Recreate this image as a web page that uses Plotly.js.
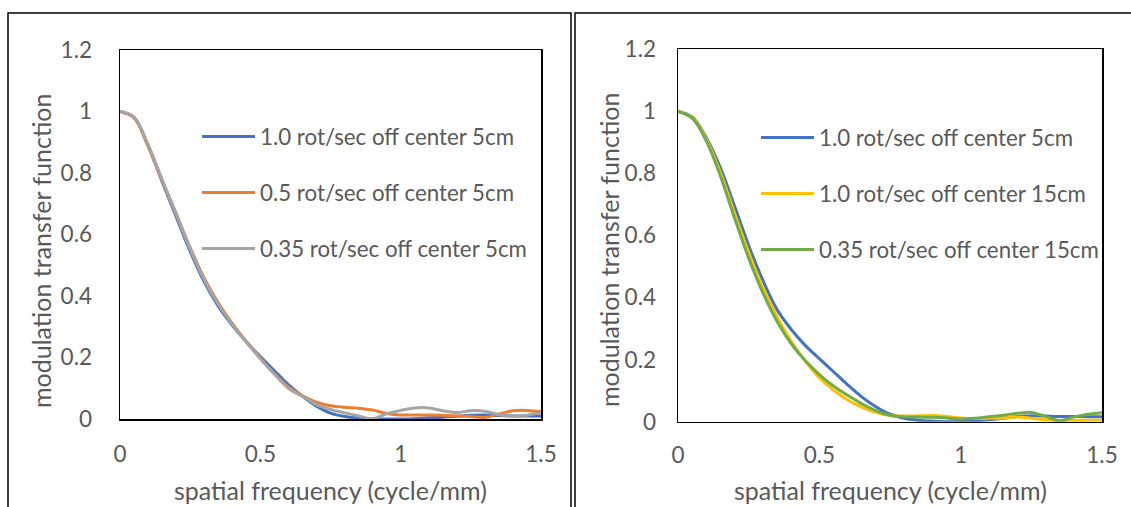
<!DOCTYPE html>
<html><head><meta charset="utf-8">
<script src="https://cdn.plot.ly/plotly-3.0.1.min.js"></script>
<style>html,body{margin:0;padding:0;background:#fff;overflow:hidden}#chart{width:1131px;height:507px}</style>
</head><body><div id="chart"></div>
<script>
// spatial frequency (cycle/mm)
const freq = [0,0.05,0.1,0.15,0.2,0.25,0.3,0.35,0.4,0.45,0.5,0.55,0.6,0.65,0.7,0.75,0.8,0.85,0.9,0.95,1.0,1.05,1.1,1.15,1.2,1.25,1.3,1.35,1.4,1.45,1.5];

// Left panel series
const leftNames = ["1.0 rot/sec off center 5cm","0.5 rot/sec off center 5cm","0.35 rot/sec off center 5cm"];
const left_1p0_5cm  = [1.000,0.980,0.888,0.772,0.658,0.545,0.446,0.367,0.305,0.251,0.203,0.157,0.112,0.074,0.042,0.019,0.008,0.003,0.000,0.000,0.000,0.001,0.004,0.006,0.009,0.012,0.013,0.011,0.010,0.010,0.010];
const left_0p5_5cm  = [1.000,0.980,0.888,0.776,0.668,0.557,0.458,0.378,0.311,0.252,0.198,0.148,0.104,0.075,0.055,0.043,0.038,0.035,0.029,0.018,0.013,0.013,0.013,0.012,0.010,0.008,0.005,0.016,0.027,0.028,0.024];
const left_0p35_5cm = [1.000,0.982,0.892,0.778,0.667,0.553,0.453,0.373,0.308,0.250,0.196,0.146,0.100,0.073,0.047,0.031,0.020,0.010,0.001,0.017,0.028,0.036,0.036,0.027,0.021,0.027,0.025,0.014,0.010,0.012,0.021];

// Right panel series
const rightNames = ["1.0 rot/sec off center 5cm","1.0 rot/sec off center 15cm","0.35 rot/sec off center 15cm"];
const right_1p0_5cm   = [1.000,0.982,0.915,0.818,0.695,0.568,0.456,0.362,0.298,0.246,0.203,0.161,0.119,0.080,0.048,0.024,0.011,0.005,0.002,0.000,0.001,0.003,0.006,0.011,0.017,0.019,0.018,0.017,0.017,0.016,0.016];
const right_1p0_15cm  = [1.000,0.980,0.910,0.803,0.672,0.545,0.432,0.338,0.260,0.195,0.142,0.102,0.070,0.047,0.030,0.020,0.018,0.019,0.020,0.017,0.012,0.010,0.011,0.012,0.015,0.011,0.006,0.004,0.004,0.005,0.005];
const right_0p35_15cm = [1.000,0.978,0.905,0.792,0.656,0.527,0.416,0.324,0.252,0.197,0.152,0.115,0.085,0.058,0.036,0.021,0.016,0.015,0.014,0.012,0.009,0.011,0.016,0.021,0.027,0.030,0.017,0.003,0.015,0.024,0.029];

const xTicks = [0,0.5,1,1.5];
const xTickText = ["0","0.5","1","1.5"];
const yTicks = [0,0.2,0.4,0.6,0.8,1,1.2];
const yTickText = ["0","0.2","0.4","0.6","0.8","1","1.2"];

const leftColors = ["#4472C4","#ED7D31","#A5A5A5"];
const rightColors = ["#4472C4","#FFC000","#70AD47"];

const W = 1131, H = 507;
const FONT = "Lato, 'Noto Sans', sans-serif";
const GRAY = "#595959";
const FS_TICK = 22.5;
const FS_LEG = 22.3;
const FS_TITLE = 25;

function mk(y, name, color, xa, ya, lg, grp){
  return {x: freq, y: y, name: name, type: "scatter", mode: "lines",
    line: {color: color, width: 3, shape: "spline", smoothing: 1},
    xaxis: xa, yaxis: ya, legend: lg, legendgroup: grp, showlegend: true, hoverinfo: "skip"};
}
const leftSeries = [left_1p0_5cm, left_0p5_5cm, left_0p35_5cm];
const rightSeries = [right_1p0_5cm, right_1p0_15cm, right_0p35_15cm];
const traces = [];
leftSeries.forEach((s,i)=>traces.push(mk(s, leftNames[i], leftColors[i], "x", "y", "legend", "L"+i)));
rightSeries.forEach((s,i)=>traces.push(mk(s, rightNames[i], rightColors[i], "x2", "y2", "legend2", "R"+i)));

function px(x){return x/W;}
function py(y){return (H-y)/H;}

const axBase = {showgrid:false, zeroline:false, showline:true, mirror:true, linecolor:"#000", linewidth:1.5,
  ticks:"", tickfont:{family:FONT, size:FS_TICK, color:GRAY}, fixedrange:true, tickmode:"array"};

const legBase = {xanchor:"left", yanchor:"top", bgcolor:"rgba(0,0,0,0)", borderwidth:0,
  font:{family:FONT, size:FS_LEG, color:GRAY}, itemwidth:53, tracegroupgap:24, traceorder:"grouped"};

const layout = {
  width: W, height: H,
  margin: {l:0, r:0, t:0, b:0},
  paper_bgcolor: "#fff", plot_bgcolor: "#fff",
  font: {family: FONT, color: GRAY, size: FS_TICK},
  xaxis: Object.assign({}, axBase, {domain:[px(120), px(541)], range:[0,1.5], tickvals:xTicks, ticktext:xTickText, anchor:"y", ticklabelstandoff:14}),
  yaxis: Object.assign({}, axBase, {domain:[py(419), py(50)], range:[0,1.2], tickvals:yTicks, ticktext:yTickText, anchor:"x", ticklabelstandoff:22}),
  xaxis2: Object.assign({}, axBase, {domain:[px(678), px(1102)], range:[0,1.5], tickvals:xTicks, ticktext:xTickText, anchor:"y2", ticklabelstandoff:13}),
  yaxis2: Object.assign({}, axBase, {domain:[py(421.7), py(49.3)], range:[0,1.2], tickvals:yTicks, ticktext:yTickText, anchor:"x2", ticklabelstandoff:16}),
  legend: Object.assign({}, legBase, {x: px(197), y: py(115.5)}),
  legend2: Object.assign({}, legBase, {x: px(756), y: py(116.5)}),
  shapes: [
    {type:"rect", xref:"paper", yref:"paper", x0:px(8), x1:px(571), y0:py(520), y1:py(13), line:{color:"#000", width:1.5}},
    {type:"rect", xref:"paper", yref:"paper", x0:px(575), x1:px(1145), y0:py(520), y1:py(13), line:{color:"#000", width:1.5}}
  ],
  annotations: [
    {text:"modulation transfer function", xref:"paper", yref:"paper", x:px(41), y:py(251), textangle:-90, showarrow:false, font:{family:FONT, size:FS_TITLE, color:GRAY}, xanchor:"center", yanchor:"middle"},
    {text:"spatial frequency (cycle/mm)", xref:"paper", yref:"paper", x:px(330), y:py(490), showarrow:false, font:{family:FONT, size:FS_TITLE, color:GRAY}, xanchor:"center", yanchor:"middle"},
    {text:"modulation transfer function", xref:"paper", yref:"paper", x:px(609), y:py(250), textangle:-90, showarrow:false, font:{family:FONT, size:FS_TITLE, color:GRAY}, xanchor:"center", yanchor:"middle"},
    {text:"spatial frequency (cycle/mm)", xref:"paper", yref:"paper", x:px(890), y:py(490), showarrow:false, font:{family:FONT, size:FS_TITLE, color:GRAY}, xanchor:"center", yanchor:"middle"}
  ]
};
Plotly.newPlot("chart", traces, layout, {displayModeBar:false, staticPlot:true});
</script></body></html>
